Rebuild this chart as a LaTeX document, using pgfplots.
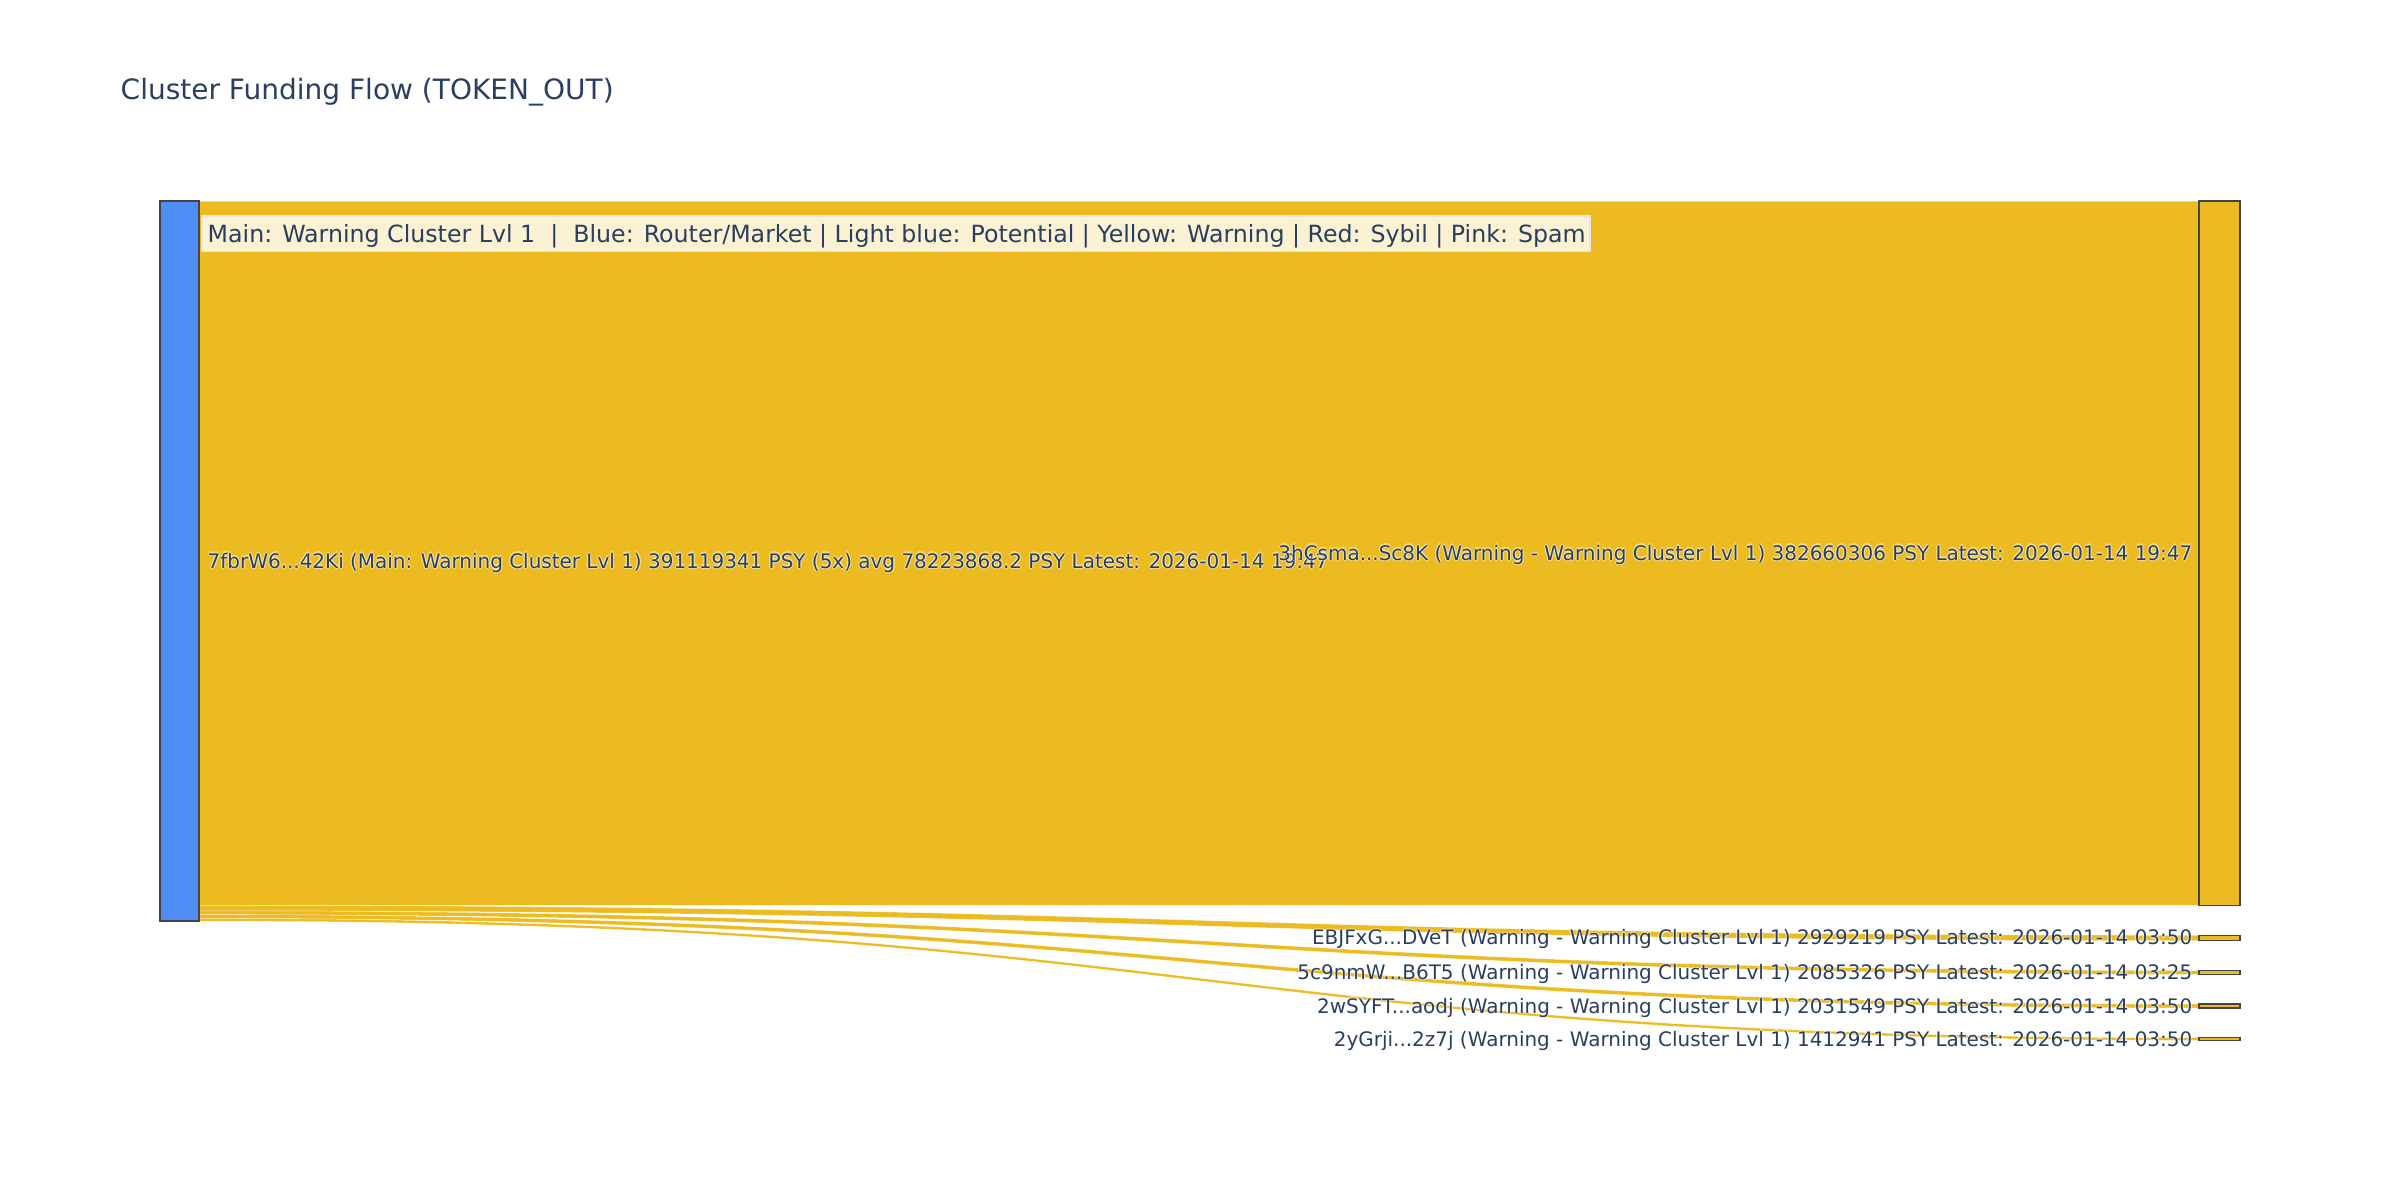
\documentclass[border=0pt]{standalone}
\usepackage{fontspec}
\setmainfont{DejaVu Sans}
\usepackage{pgfplots}
\pgfplotsset{compat=1.18}
\definecolor{linkyel}{RGB}{236,187,33}
\definecolor{nodeblue}{RGB}{79,142,247}
\definecolor{nodeline}{RGB}{68,68,68}
\definecolor{txt}{RGB}{42,63,95}
\definecolor{annobg}{RGB}{251,241,211}
\definecolor{annoline}{RGB}{228,228,228}

% link band: source y0,y1 -> target y0,y1 (values in million PSY)
\newcommand{\link}[4]{%
  \filldraw[fill=linkyel, draw=white, draw opacity=0.45, line width=0.15pt]
    (axis cs:199,#1) .. controls (axis cs:1199,#1) and (axis cs:1199,#3) .. (axis cs:2199,#3)
    -- (axis cs:2199,#4) .. controls (axis cs:1199,#4) and (axis cs:1199,#2) .. (axis cs:199,#2) -- cycle;}
% label with white halo
\tikzset{lbl/.style={font=\fontsize{5.68}{6.5}\selectfont, inner sep=0pt, yshift=-1.99pt},
         hl/.style={lbl, text=white, opacity=0.45}}
\newcommand{\halo}[4]{%
  \node[hl, anchor=#3, xshift=0.13mm] at (axis cs:#1,#2) {#4};
  \node[hl, anchor=#3, xshift=-0.13mm] at (axis cs:#1,#2) {#4};
  \node[hl, anchor=#3, yshift=0.13mm] at (axis cs:#1,#2) {#4};
  \node[hl, anchor=#3, yshift=-0.13mm] at (axis cs:#1,#2) {#4};
  \node[lbl, anchor=#3, text=txt] at (axis cs:#1,#2) {#4};}

\begin{document}
\begin{tikzpicture}
% flow values (million PSY)
\def\vA{382.660306}% 3hCsma...Sc8K
\def\vB{2.929219}%   EBJFxG...DVeT
\def\vC{2.085326}%   5c9nmW...B6T5
\def\vD{2.031549}%   2wSYFT...aodj
\def\vE{1.412941}%   2yGrji...2z7j
\pgfmathsetmacro\sB{\vA+\vB}
\pgfmathsetmacro\sC{\sB+\vC}
\pgfmathsetmacro\sD{\sC+\vD}
\pgfmathsetmacro\sE{\sD+\vE}
\def\gap{16.2}
\pgfmathsetmacro\tB{\vA+\gap}
\pgfmathsetmacro\tBb{\tB+\vB}
\pgfmathsetmacro\tC{\tBb+\gap}
\pgfmathsetmacro\tCb{\tC+\vC}
\pgfmathsetmacro\tD{\tCb+\gap}
\pgfmathsetmacro\tDb{\tD+\vD}
\pgfmathsetmacro\tE{\tDb+\gap}
\pgfmathsetmacro\tEb{\tE+\vE}
\pgfmathsetmacro\mA{\vA/2}
\pgfmathsetmacro\mS{\sE/2}
\pgfmathsetmacro\mB{(\tB+\tBb)/2}
\pgfmathsetmacro\mC{(\tC+\tCb)/2}
\pgfmathsetmacro\mD{(\tD+\tDb)/2}
\pgfmathsetmacro\mE{(\tE+\tEb)/2}
\begin{axis}[width=240mm, height=120mm, scale only axis, hide axis, clip=false,
  xmin=0, xmax=2400, ymin=-109.19, ymax=542.67, y dir=reverse]
\path (axis cs:0,-109.19) rectangle (axis cs:2400,542.67);
% links
\link{0}{\vA}{0}{\vA}
\link{\vA}{\sB}{\tB}{\tBb}
\link{\sB}{\sC}{\tC}{\tCb}
\link{\sC}{\sD}{\tD}{\tDb}
\link{\sD}{\sE}{\tE}{\tEb}
% nodes
\addplot[fill=nodeblue, draw=nodeline, line width=0.4pt] coordinates {(160,0) (199,0) (199,\sE) (160,\sE)} -- cycle;
\addplot[fill=linkyel, draw=nodeline, line width=0.4pt] coordinates {(2199,0) (2240,0) (2240,\vA) (2199,\vA)} -- cycle;
\addplot[fill=linkyel, draw=nodeline, line width=0.4pt] coordinates {(2199,\tB) (2240,\tB) (2240,\tBb) (2199,\tBb)} -- cycle;
\addplot[fill=linkyel, draw=nodeline, line width=0.4pt] coordinates {(2199,\tC) (2240,\tC) (2240,\tCb) (2199,\tCb)} -- cycle;
\addplot[fill=linkyel, draw=nodeline, line width=0.4pt] coordinates {(2199,\tD) (2240,\tD) (2240,\tDb) (2199,\tDb)} -- cycle;
\addplot[fill=linkyel, draw=nodeline, line width=0.4pt] coordinates {(2199,\tE) (2240,\tE) (2240,\tEb) (2199,\tEb)} -- cycle;
% title
\node[anchor=base west, inner sep=0pt, font=\fontsize{7.97}{9}\selectfont, text=txt] at (axis cs:120,-54.87) {Cluster Funding Flow (TOKEN\_OUT)};
% annotation
\filldraw[fill=annobg, draw=annoline, line width=0.5pt] (axis cs:202,8.15) rectangle (axis cs:1590,27.43);
\node[anchor=base west, inner sep=0pt, font=\fontsize{6.74}{8}\selectfont, text=txt, yshift=-2.36pt] at (axis cs:207,17.76) {Main: Warning Cluster Lvl 1\ \ |\ \ Blue: Router/Market | Light blue: Potential | Yellow: Warning | Red: Sybil | Pink: Spam};
% labels
\halo{207}{\mS}{base west}{7fbrW6...42Ki (Main: Warning Cluster Lvl 1) 391119341 PSY (5x) avg 78223868.2 PSY Latest: 2026-01-14 19:47}
\halo{2193}{\mA}{base east}{3hCsma...Sc8K (Warning - Warning Cluster Lvl 1) 382660306 PSY Latest: 2026-01-14 19:47}
\halo{2193}{\mB}{base east}{EBJFxG...DVeT (Warning - Warning Cluster Lvl 1) 2929219 PSY Latest: 2026-01-14 03:50}
\halo{2193}{\mC}{base east}{5c9nmW...B6T5 (Warning - Warning Cluster Lvl 1) 2085326 PSY Latest: 2026-01-14 03:25}
\halo{2193}{\mD}{base east}{2wSYFT...aodj (Warning - Warning Cluster Lvl 1) 2031549 PSY Latest: 2026-01-14 03:50}
\halo{2193}{\mE}{base east}{2yGrji...2z7j (Warning - Warning Cluster Lvl 1) 1412941 PSY Latest: 2026-01-14 03:50}
\end{axis}
\end{tikzpicture}
\end{document}
